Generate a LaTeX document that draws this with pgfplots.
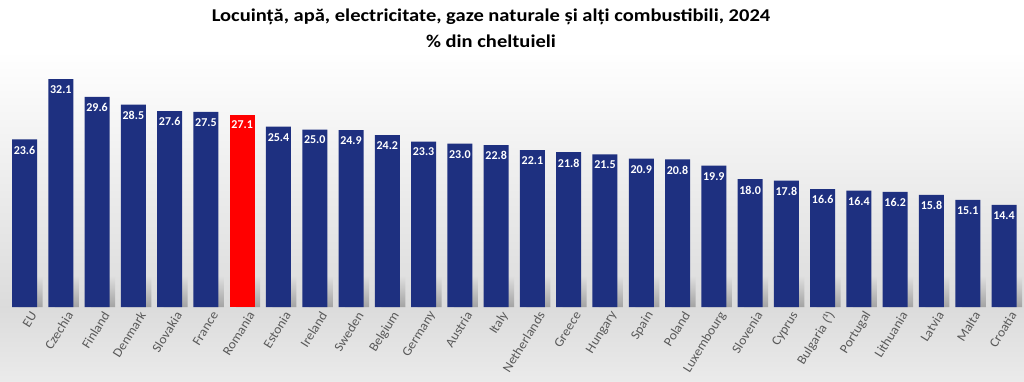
\documentclass[border=0pt]{standalone}
\usepackage{pgfplots}
\pgfplotsset{compat=1.18}
\usepackage{fontspec}
\setmainfont{Carlito}
\newfontfamily\titlefont[FakeStretch=1.14]{Carlito}
\newfontfamily\lblfont[FakeStretch=1.05]{Carlito}
\definecolor{navy}{RGB}{30,48,128}
\definecolor{lbl}{RGB}{89,89,89}
\begin{document}
\begin{tikzpicture}
\useasboundingbox (0,0) rectangle (1024pt,381pt);
\fill[white] (0,0) rectangle (1024pt,381pt);
\shade[top color=white, bottom color=black!14] (0,74pt) rectangle (1024pt,330pt);
\shade[top color=black!14, bottom color=black!8] (0,0) rectangle (1024pt,74pt);
\node[anchor=base, font=\titlefont\bfseries\fontsize{18}{21}\selectfont] at (491pt,359pt) {Locuință, apă, electricitate, gaze naturale și alți combustibili, 2024};
\node[anchor=base, font=\titlefont\bfseries\fontsize{18}{21}\selectfont] at (491pt,333pt) {\% din cheltuieli};
\begin{axis}[
  at={(6.4pt,74pt)}, anchor=south west,
  scale only axis, width=1015.8pt, height=234.3pt,
  xmin=-0.5, xmax=27.5, ymin=0, ymax=33,
  axis line style={draw=none},
  ytick=\empty,
  xtick={0,...,27},
  major tick length=0pt,
  xticklabels={EU,Czechia,Finland,Denmark,Slovakia,France,Romania,Estonia,Ireland,Sweden,Belgium,Germany,Austria,Italy,Netherlands,Greece,Hungary,Spain,Poland,Luxembourg,Slovenia,Cyprus,Bulgaria (¹),Portugal,Lithuania,Latvia,Malta,Croatia},
  xticklabel style={rotate=58, anchor=east, font=\lblfont\fontsize{13}{15}\selectfont, text=lbl, inner sep=1pt, yshift=-11pt, xshift=1pt},
  /pgf/number format/assume math mode=true,
  ybar, bar width=25pt,
  every node near coord/.append style={/pgf/number format/fixed, /pgf/number format/zerofill, /pgf/number format/precision=1, anchor=north, yshift=-3pt, text=white, font=\bfseries\fontsize{12}{14}\selectfont},
  clip=false,
]
\addplot[draw=none, bar shift=6pt, bar width=24pt, top color=black!12, bottom color=black!36] coordinates {
(0,4.5) (1,4.5) (2,4.5) (3,4.5) (4,4.5) (5,4.5) (6,4.5) (7,4.5) (8,4.5) (9,4.5) (10,4.5) (11,4.5) (12,4.5) (13,4.5) (14,4.5) (15,4.5) (16,4.5) (17,4.5) (18,4.5) (19,4.5) (20,4.5) (21,4.5) (22,4.5) (23,4.5) (24,4.5) (25,4.5) (26,4.5) (27,4.5)
};
\addplot[fill=navy, draw=none, bar shift=0pt, nodes near coords] coordinates {
(0,23.6) (1,32.1) (2,29.6) (3,28.5) (4,27.6) (5,27.5) (7,25.4) (8,25.0) (9,24.9) (10,24.2) (11,23.3) (12,23.0) (13,22.8) (14,22.1) (15,21.8) (16,21.5) (17,20.9) (18,20.8) (19,19.9) (20,18.0) (21,17.8) (22,16.6) (23,16.4) (24,16.2) (25,15.8) (26,15.1) (27,14.4)
};
\addplot[fill=red, draw=none, bar shift=0pt, nodes near coords] coordinates {(6,27.1)};
\end{axis}
\end{tikzpicture}
\end{document}
